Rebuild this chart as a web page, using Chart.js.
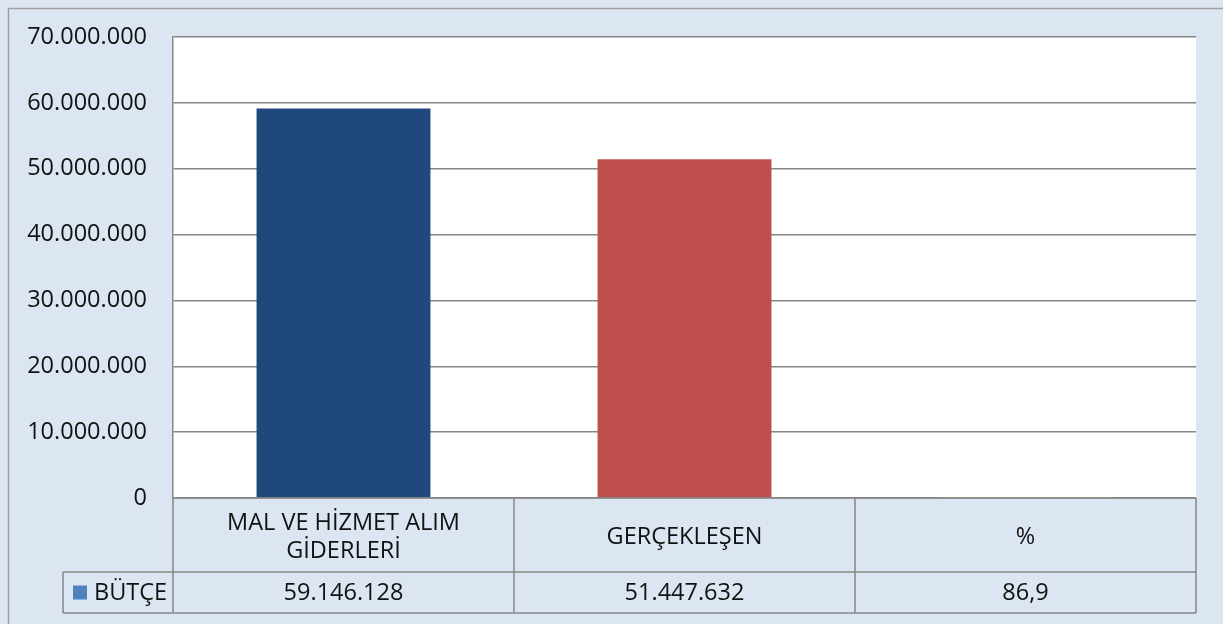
<!DOCTYPE html>
<html>
<head>
<meta charset="utf-8">
<script src="https://cdn.jsdelivr.net/npm/chart.js@4/dist/chart.umd.min.js"></script>
<style>
  html, body { margin: 0; padding: 0; background: #dce6f2; }
  #wrap { width: 1223px; height: 624px; }
</style>
</head>
<body>
<div id="wrap"><canvas id="budgetChart" width="1223" height="624"></canvas></div>
<script>
const categories = [["MAL VE HİZMET ALIM", "GİDERLERİ"], "GERÇEKLEŞEN", "%"];
const seriesName = "BÜTÇE";
const values = [59146128, 51447632, 86.9];
const barColors = ["#1f497d", "#c0504d", "#9bbb59"];
const legendColor = "#4f81bd";
const yTicks = [0, 10000000, 20000000, 30000000, 40000000, 50000000, 60000000, 70000000];

const FONT = "'Open Sans', sans-serif";
const LINE = "#868686";
const BG = "#dce6f2";

function fmt(v) {
  if (Number.isInteger(v)) return String(v).replace(/\B(?=(\d{3})+(?!\d))/g, ".");
  return String(v).replace(".", ",");
}

// background, outer frame, white plot area
const frame = {
  id: "frame",
  beforeDraw(chart) {
    const { ctx, chartArea: a } = chart;
    ctx.save();
    ctx.fillStyle = BG;
    ctx.fillRect(0, 0, chart.width, chart.height);
    ctx.strokeStyle = "#a0a0a0";
    ctx.lineWidth = 1.5;
    ctx.beginPath();
    ctx.moveTo(8.5, chart.height);
    ctx.lineTo(8.5, 8.5);
    ctx.lineTo(chart.width, 8.5);
    ctx.stroke();
    ctx.fillStyle = "#ffffff";
    ctx.fillRect(a.left, a.top, a.right - a.left, a.bottom - a.top);
    ctx.restore();
  }
};

// data table under the plot
const dataTable = {
  id: "dataTable",
  afterDraw(chart) {
    const { ctx, chartArea: a } = chart;
    const x = chart.scales.x;
    const n = categories.length;
    const colW = (a.right - a.left) / n;
    const top = a.bottom;
    const mid = top + 74;
    const bot = mid + 41;
    const legLeft = 63;

    ctx.save();
    ctx.strokeStyle = LINE;
    ctx.lineWidth = 1.5;
    ctx.beginPath();
    ctx.moveTo(a.left, top); ctx.lineTo(a.right, top);
    ctx.moveTo(legLeft, mid); ctx.lineTo(a.right, mid);
    ctx.moveTo(legLeft, bot); ctx.lineTo(a.right, bot);
    ctx.moveTo(legLeft, mid); ctx.lineTo(legLeft, bot);
    for (let i = 0; i <= n; i++) {
      const cx = a.left + colW * i;
      ctx.moveTo(cx, top); ctx.lineTo(cx, bot);
    }
    ctx.stroke();

    ctx.fillStyle = "#111";
    ctx.font = "23.5px " + FONT;
    ctx.textAlign = "center";
    ctx.textBaseline = "middle";
    categories.forEach((c, i) => {
      const cx = x.getPixelForValue(i);
      const lines = Array.isArray(c) ? c : [c];
      const lh = 28;
      const y0 = (top + mid) / 2 + 2 - (lines.length - 1) * lh / 2;
      lines.forEach((l, j) => ctx.fillText(l, cx, y0 + j * lh));
      ctx.fillText(fmt(values[i]), cx, (mid + bot) / 2 + 1);
    });

    ctx.fillStyle = legendColor;
    ctx.fillRect(73, (mid + bot) / 2 - 7, 14, 14);
    ctx.fillStyle = "#111";
    ctx.textAlign = "left";
    ctx.fillText(seriesName, 94, (mid + bot) / 2 + 1);
    ctx.restore();
  }
};

new Chart(document.getElementById("budgetChart"), {
  type: "bar",
  data: {
    labels: categories,
    datasets: [{
      label: seriesName,
      data: values,
      backgroundColor: barColors,
      categoryPercentage: 1,
      barPercentage: 0.51
    }]
  },
  options: {
    responsive: false,
    animation: false,
    layout: { padding: { left: 0, right: 27, top: 37, bottom: 126 } },
    plugins: { legend: { display: false }, tooltip: { enabled: false } },
    scales: {
      x: { display: false },
      y: {
        min: 0,
        max: 70000000,
        afterFit(scale) {
          scale.width = 173;
          scale.paddingTop = 0;
          scale.paddingBottom = 0;
        },
        afterBuildTicks(scale) { scale.ticks = yTicks.map(v => ({ value: v })); },
        ticks: {
          padding: 26,
          color: "#111",
          font: { family: FONT, size: 23.5 },
          callback: v => fmt(v)
        },
        grid: { color: LINE, lineWidth: 1.5, drawTicks: false },
        border: { display: true, color: LINE, width: 1.5 }
      }
    }
  },
  plugins: [frame, dataTable]
});
</script>
</body>
</html>
